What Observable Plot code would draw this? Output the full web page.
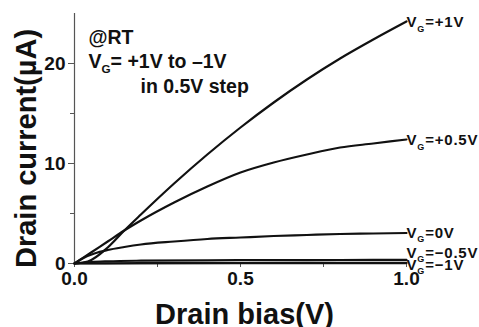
<!DOCTYPE html>
<html>
<head>
<meta charset="utf-8">
<script src="https://cdn.jsdelivr.net/npm/d3@7"></script>
<script src="https://cdn.jsdelivr.net/npm/@observablehq/plot@0.6"></script>
<style>
  html, body { margin: 0; padding: 0; background: #fff; }
  svg { font-family: "Liberation Sans", Arial, Helvetica, sans-serif; }
</style>
</head>
<body>
<div id="chart"></div>
<script>
// ---- data ----
const seriesNames = ["V_G=+1V", "V_G=+0.5V", "V_G=0V", "V_G=\u22120.5V", "V_G=\u22121V"];

const vdP1 = [0, 0.04, 0.1, 0.15, 0.2, 0.3, 0.4, 0.5, 0.6, 0.7, 0.8, 0.9, 1.0];
const idP1 = [0, 0.2, 1.6, 3.3, 4.9, 8.0, 10.9, 13.6, 16.1, 18.4, 20.5, 22.4, 24.2];

const vdP05 = [0, 0.05, 0.1, 0.15, 0.2, 0.3, 0.4, 0.5, 0.6, 0.7, 0.8, 0.9, 1.0];
const idP05 = [0, 1.1, 2.2, 3.3, 4.3, 6.1, 7.7, 9.1, 10.1, 10.9, 11.6, 12.0, 12.4];

const vd0 = [0, 0.03, 0.06, 0.1, 0.15, 0.2, 0.3, 0.4, 0.5, 0.6, 0.7, 0.8, 0.9, 1.0];
const id0 = [0, 0.6, 1.0, 1.35, 1.65, 1.9, 2.2, 2.45, 2.6, 2.75, 2.85, 2.95, 3.0, 3.05];

const vdM05 = [0, 0.05, 0.1, 0.2, 0.4, 0.6, 0.8, 1.0];
const idM05 = [0, 0.15, 0.22, 0.28, 0.32, 0.34, 0.35, 0.36];

const vdM1 = [0, 0.2, 0.5, 1.0];
const idM1 = [0, 0.03, 0.05, 0.06];

const xTicks = [0, 0.5, 1.0];
const xMinorTicks = [0.25, 0.75];
const yTicks = [0, 10, 20];
const yMinorTicks = [5, 15];

const annotationLines = ["@RT", "V_G= +1V to \u20131V", "in 0.5V step"];
const xLabel = "Drain bias(V)";
const yLabel = "Drain current(\u00b5A)";

// ---- build table ----
const seriesX = [vdP1, vdP05, vd0, vdM05, vdM1];
const seriesY = [idP1, idP05, id0, idM05, idM1];
const rows = [];
seriesNames.forEach((name, k) => {
  seriesX[k].forEach((v, i) => rows.push({series: name, vd: v, id: seriesY[k][i]}));
});
const ends = seriesNames.map((name, k) => ({
  series: name, vd: seriesX[k][seriesX[k].length - 1], id: seriesY[k][seriesY[k].length - 1]
}));
const labelShift = [1, 1, 0, -7, 2];

const axisGray = "#555";
const ink = "#111";

const endLabels = ends.map((e, k) =>
  Plot.text([e], {x: "vd", y: "id", text: "series", textAnchor: "start", lineAnchor: "middle",
    dy: labelShift[k], fontSize: 15, fontWeight: "bold", fill: ink}));

const chart = Plot.plot({
  width: 479,
  height: 327,
  marginLeft: 74,
  marginRight: 73,
  marginTop: 13,
  marginBottom: 64,
  style: {fontFamily: '"Liberation Sans", Arial, sans-serif', background: "#fff", overflow: "visible"},
  x: {domain: [0, 1], axis: null},
  y: {domain: [0, 25], axis: null},
  marks: [
    Plot.ruleX([0], {y1: 0, y2: 25, stroke: axisGray, strokeWidth: 1.2}),
    Plot.axisY(yTicks, {label: null, tickSize: 6, tickPadding: 3, tickFormat: d => String(d), fontSize: 19, fontWeight: "bold", stroke: axisGray, fill: ink}),
    Plot.axisY(yMinorTicks, {label: null, tickSize: 4, text: null, stroke: axisGray}),
    Plot.axisX(xTicks, {label: null, tickSize: 4, tickPadding: 4, tickFormat: d => d.toFixed(1), fontSize: 19, fontWeight: "bold", stroke: axisGray, fill: ink}),
    Plot.axisX(xMinorTicks, {label: null, tickSize: 4, text: null, stroke: axisGray}),
    Plot.ruleY([0], {x1: 0, x2: 1, stroke: ink, strokeWidth: 1.5}),
    Plot.line(rows, {x: "vd", y: "id", z: "series", stroke: ink, strokeWidth: 2.2, curve: "monotone-x"}),
    ...endLabels,
    Plot.text([annotationLines[0]], {frameAnchor: "top-left", dx: 14, dy: 30, lineAnchor: "bottom", textAnchor: "start", fontSize: 19.5, fontWeight: "bold", fill: ink}),
    Plot.text([annotationLines[1]], {frameAnchor: "top-left", dx: 14, dy: 54, lineAnchor: "bottom", textAnchor: "start", fontSize: 19.5, fontWeight: "bold", fill: ink}),
    Plot.text([annotationLines[2]], {frameAnchor: "top-left", dx: 66, dy: 79, lineAnchor: "bottom", textAnchor: "start", fontSize: 19.5, fontWeight: "bold", fill: ink}),
    Plot.text([xLabel], {frameAnchor: "bottom", dx: 4, dy: 60, lineAnchor: "bottom", fontSize: 29, fontWeight: "bold", fill: ink}),
    Plot.text([yLabel], {frameAnchor: "left", dx: -39, dy: 10, lineAnchor: "bottom", fontSize: 29, fontWeight: "bold", fill: ink})
  ]
});

// rotate the y-axis title around its own anchor point
chart.querySelectorAll("text").forEach(t => {
  if (t.textContent !== yLabel) return;
  let x = 0, y = 0;
  const m = /translate\(([-\d.]+)[ ,]+([-\d.]+)\)/.exec(t.getAttribute("transform") || "");
  if (m) { x = +m[1]; y = +m[2]; }
  if (t.hasAttribute("x")) x += +t.getAttribute("x");
  if (t.hasAttribute("y")) y += +t.getAttribute("y");
  const pm = /translate\(([-\d.]+)[ ,]+([-\d.]+)\)/.exec(t.parentNode.getAttribute("transform") || "");
  if (pm) { x += +pm[1]; y += +pm[2]; t.parentNode.removeAttribute("transform"); }
  t.removeAttribute("x"); t.removeAttribute("y");
  t.setAttribute("text-anchor", "middle");
  t.setAttribute("transform", `translate(${x},${y}) rotate(-90)`);
});

// subscript "G" in the V_G labels
chart.querySelectorAll("text").forEach(t => {
  const s = t.textContent;
  const i = s.indexOf("V_G");
  if (i < 0) return;
  if (seriesNames.includes(s)) t.setAttribute("letter-spacing", "0.8");
  const fs = parseFloat(t.getAttribute("font-size") || t.parentNode.getAttribute("font-size") || 14);
  const before = s.slice(0, i + 1);
  const after = s.slice(i + 3);
  while (t.firstChild) t.removeChild(t.firstChild);
  const ns = "http://www.w3.org/2000/svg";
  const a = document.createElementNS(ns, "tspan"); a.textContent = before; t.appendChild(a);
  const g = document.createElementNS(ns, "tspan"); g.textContent = "G";
  g.setAttribute("font-size", (fs * 0.6).toFixed(1)); g.setAttribute("dy", (fs * 0.3).toFixed(1)); t.appendChild(g);
  const b = document.createElementNS(ns, "tspan"); b.textContent = after; b.setAttribute("dy", (-fs * 0.3).toFixed(1)); t.appendChild(b);
});

document.getElementById("chart").appendChild(chart);
</script>
</body>
</html>
